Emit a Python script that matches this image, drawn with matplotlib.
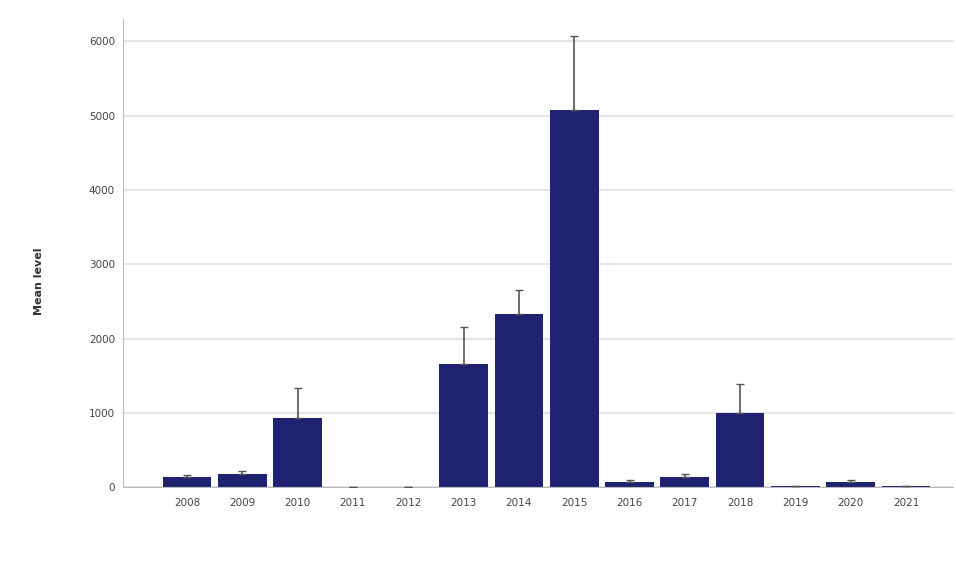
import matplotlib
matplotlib.use('Agg')
import matplotlib.pyplot as plt
import numpy as np

years = ['2008', '2009', '2010', '2011', '2012', '2013', '2014',
         '2015', '2016', '2017', '2018', '2019', '2020', '2021']
means = [140, 180, 930, 5, 5, 1655, 2330, 5075, 70, 140, 995, 10, 70, 10]
err_up = [30, 40, 400, 0, 0, 495, 320, 1005, 20, 40, 395, 5, 20, 5]

fig = plt.figure(figsize=(9.56, 5.82), dpi=100)
ax = fig.add_axes([0.129, 0.163, 0.868, 0.804])

x = np.arange(len(years))
ax.bar(x, means, width=0.88, color='#1f2270', zorder=2)
ax.errorbar(x, means, yerr=[np.zeros(len(means)), err_up], fmt='none',
            ecolor='#555555', elinewidth=1.2, capsize=3, zorder=3)

ax.set_xlim(-1.15, len(years) - 0.15)
ax.set_ylim(0, 6300)
ax.set_yticks([0, 1000, 2000, 3000, 4000, 5000, 6000])
ax.set_yticklabels(['0', '1000', '2000', '3000', '4000', '5000', '6000'])
ax.set_xticks(x)
ax.set_xticklabels(years)
ax.tick_params(axis='both', labelsize=7.5, colors='#444444', length=0)
ax.tick_params(axis='x', pad=8)
ax.tick_params(axis='y', pad=6)
ax.grid(axis='y', color='#e4e4e4', linewidth=1.5, zorder=0)

for side in ['top', 'right']:
    ax.spines[side].set_visible(False)
ax.spines['left'].set_color('#bbbbbb')
ax.spines['bottom'].set_color('#bbbbbb')

ax.set_ylabel('Mean level', fontsize=8, fontweight='bold', color='#333333', labelpad=30)
ax.yaxis.set_label_coords(-0.095, 0.44)

plt.savefig('out.png', dpi=100)
plt.close(fig)
